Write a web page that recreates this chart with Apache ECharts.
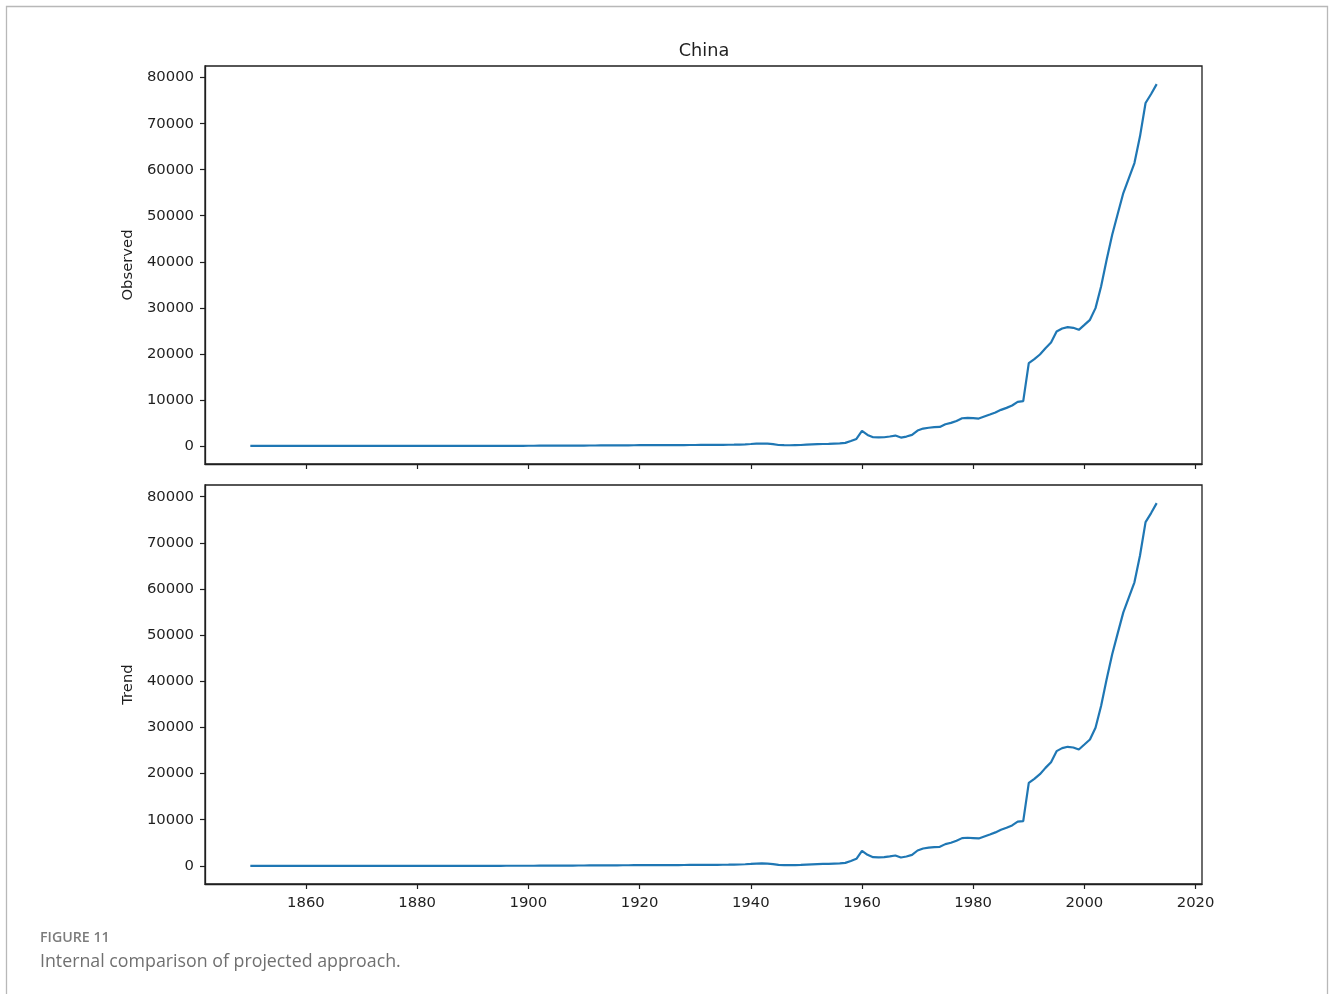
<!DOCTYPE html>
<html>
<head>
<meta charset="utf-8">
<title>China</title>
<script src="https://cdn.jsdelivr.net/npm/echarts@6/dist/echarts.min.js"></script>
<style>
  html, body { margin: 0; padding: 0; background: #ffffff; }
  #chart { width: 1330px; height: 994px; }
</style>
</head>
<body>
<div id="chart"></div>
<script>
// Annual series, one value per year starting at firstYear.
const firstYear = 1850;
const observed = [
  // 1850s
  0, 0, 0, 0, 0, 0, 0, 0, 0, 0,
  // 1860s
  0, 0, 0, 0, 0, 0, 0, 0, 0, 0,
  // 1870s
  0, 0, 0, 0, 0, 0, 0, 0, 0, 0,
  // 1880s
  0, 0, 0, 0, 0, 0, 0, 0, 0, 0,
  // 1890s
  10, 10, 10, 10, 10, 10, 20, 20, 20, 20,
  // 1900s
  30, 30, 40, 40, 50, 60, 60, 70, 70, 80,
  // 1910s
  80, 90, 90, 100, 110, 110, 120, 130, 130, 140,
  // 1920s
  150, 150, 160, 160, 170, 170, 180, 180, 190, 200,
  // 1930s
  200, 210, 220, 220, 230, 240, 250, 270, 300, 350,
  // 1940s
  420, 500, 520, 480, 380, 200, 150, 140, 170, 200,
  // 1950s
  280, 330, 370, 410, 440, 500, 560, 650, 1050, 1520,
  // 1960s
  3260, 2390, 1880, 1850, 1880, 2050, 2250, 1810, 2030, 2390,
  // 1970s
  3330, 3770, 3950, 4060, 4130, 4710, 5000, 5430, 6010, 6090,
  // 1980s
  6030, 5940, 6380, 6810, 7250, 7830, 8260, 8770, 9570, 9710,
  // 1990s
  17970, 18840, 19860, 21230, 22460, 24860, 25510, 25800, 25650, 25220,
  // 2000s
  26300, 27390, 29930, 34640, 40440, 45870, 50430, 54930, 58190, 61450,
  // 2010s
  67250, 74490, 76450, 78600
];
// The trend component coincides with the observed series.
const trend = [
  0, 0, 0, 0, 0, 0, 0, 0, 0, 0,
  0, 0, 0, 0, 0, 0, 0, 0, 0, 0,
  0, 0, 0, 0, 0, 0, 0, 0, 0, 0,
  0, 0, 0, 0, 0, 0, 0, 0, 0, 0,
  10, 10, 10, 10, 10, 10, 20, 20, 20, 20,
  30, 30, 40, 40, 50, 60, 60, 70, 70, 80,
  80, 90, 90, 100, 110, 110, 120, 130, 130, 140,
  150, 150, 160, 160, 170, 170, 180, 180, 190, 200,
  200, 210, 220, 220, 230, 240, 250, 270, 300, 350,
  420, 500, 520, 480, 380, 200, 150, 140, 170, 200,
  280, 330, 370, 410, 440, 500, 560, 650, 1050, 1520,
  3260, 2390, 1880, 1850, 1880, 2050, 2250, 1810, 2030, 2390,
  3330, 3770, 3950, 4060, 4130, 4710, 5000, 5430, 6010, 6090,
  6030, 5940, 6380, 6810, 7250, 7830, 8260, 8770, 9570, 9710,
  17970, 18840, 19860, 21230, 22460, 24860, 25510, 25800, 25650, 25220,
  26300, 27390, 29930, 34640, 40440, 45870, 50430, 54930, 58190, 61450,
  67250, 74490, 76450, 78600
];

const xTicks = [1860, 1880, 1900, 1920, 1940, 1960, 1980, 2000, 2020];
const yTicks = [0, 10000, 20000, 30000, 40000, 50000, 60000, 70000, 80000];

const titleText = 'China';
const panelNames = ['Observed', 'Trend'];
const captionLabel = 'FIGURE 11';
const captionText = 'Internal comparison of projected approach.';

function toPairs(values) {
  return values.map((v, i) => [firstYear + i, v]);
}

// 5% padding around the data extent on both axes
const lastYear = firstYear + observed.length - 1;
const xPad = (lastYear - firstYear) * 0.05;
const xMin = firstYear - xPad;
const xMax = lastYear + xPad;
const yMaxData = Math.max(...observed);
const yPad = yMaxData * 0.05;
const yMin = -yPad;
const yMax = yMaxData + yPad;

const FONT = 'DejaVu Sans';
const INK = '#1f1f1f';
const LINE = '#1f77b4';
const plainNumber = v => String(Math.round(v));

function xAxis(gridIndex, showLabels) {
  return {
    type: 'value',
    gridIndex,
    min: xMin,
    max: xMax,
    splitLine: { show: false },
    axisLine: { show: true, onZero: false, lineStyle: { color: INK, width: 1.3 } },
    axisTick: { show: true, length: 5, customValues: xTicks, lineStyle: { color: INK, width: 1.2 } },
    axisLabel: {
      show: showLabels,
      customValues: xTicks,
      formatter: plainNumber,
      margin: 12,
      color: INK,
      fontFamily: FONT,
      fontSize: 14.8
    }
  };
}

function yAxis(gridIndex, name) {
  return {
    type: 'value',
    gridIndex,
    min: yMin,
    max: yMax,
    name,
    nameLocation: 'middle',
    nameGap: 60,
    nameRotate: 90,
    nameTextStyle: { color: INK, fontFamily: FONT, fontSize: 14.8 },
    splitLine: { show: false },
    axisLine: { show: true, onZero: false, lineStyle: { color: INK, width: 1.3 } },
    axisTick: { show: true, length: 5, customValues: yTicks, lineStyle: { color: INK, width: 1.2 } },
    axisLabel: {
      customValues: yTicks,
      formatter: plainNumber,
      margin: 11,
      color: INK,
      fontFamily: FONT,
      fontSize: 14.8
    }
  };
}

function lineSeries(idx, values) {
  return {
    type: 'line',
    xAxisIndex: idx,
    yAxisIndex: idx,
    data: toPairs(values),
    showSymbol: false,
    symbol: 'none',
    animation: false,
    lineStyle: { color: LINE, width: 2.2 },
    z: 3
  };
}

const chart = echarts.init(document.getElementById('chart'), null, { renderer: 'canvas' });

chart.setOption({
  backgroundColor: '#ffffff',
  animation: false,
  grid: [
    { left: 205, top: 66, width: 997, height: 398, show: true, borderColor: INK, borderWidth: 1.3, backgroundColor: 'transparent' },
    { left: 205, top: 485, width: 997, height: 399, show: true, borderColor: INK, borderWidth: 1.3, backgroundColor: 'transparent' }
  ],
  xAxis: [xAxis(0, false), xAxis(1, true)],
  yAxis: [yAxis(0, panelNames[0]), yAxis(1, panelNames[1])],
  series: [lineSeries(0, observed), lineSeries(1, trend)],
  graphic: [
    {
      type: 'rect',
      shape: { x: 6.5, y: 6.5, width: 1321, height: 1010 },
      style: { fill: 'none', stroke: '#b8b8b8', lineWidth: 1.3 },
      silent: true
    },
    {
      type: 'text',
      x: 704,
      y: 51,
      style: {
        text: titleText, fill: INK, fontFamily: FONT, fontSize: 17.7,
        align: 'center', verticalAlign: 'middle'
      }
    },
    {
      type: 'text',
      left: 40,
      top: 931,
      style: { text: captionLabel, fill: '#7c7c7c', fontFamily: 'Open Sans', fontSize: 14.2, fontWeight: 600 }
    },
    {
      type: 'text',
      left: 40,
      top: 953,
      style: { text: captionText, fill: '#707070', fontFamily: 'Open Sans', fontSize: 17.8, fontWeight: 'normal' }
    }
  ]
});
</script>
</body>
</html>
